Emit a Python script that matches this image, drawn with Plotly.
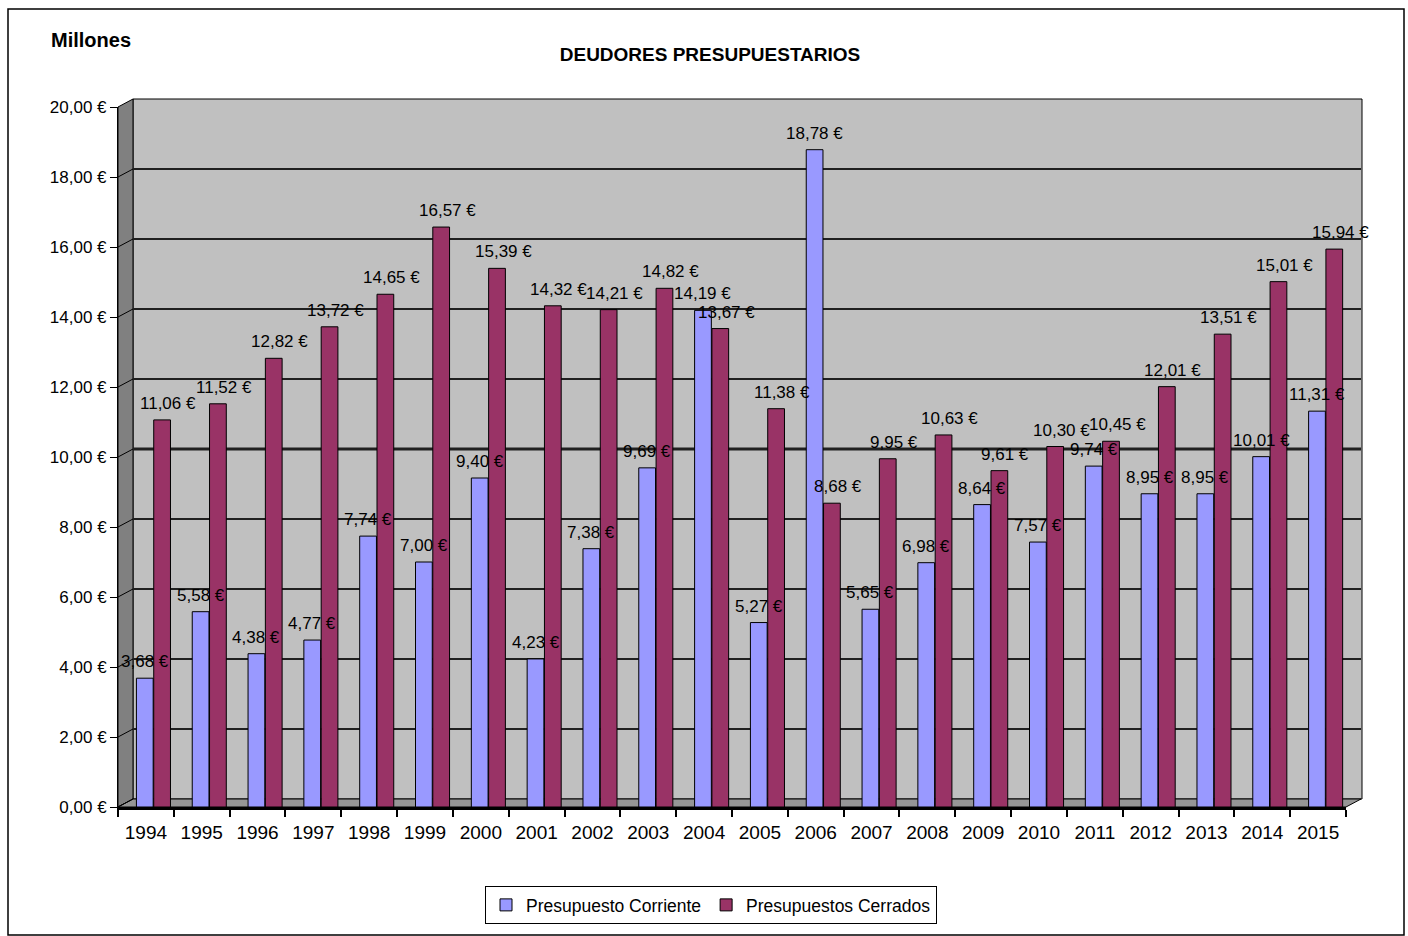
import plotly.graph_objects as go

years = [str(y) for y in range(1994, 2016)]
corriente = [3.68, 5.58, 4.38, 4.77, 7.74, 7.00, 9.40, 4.23, 7.38, 9.69, 14.19,
             5.27, 18.78, 5.65, 6.98, 8.64, 7.57, 9.74, 8.95, 8.95, 10.01, 11.31]
cerrados = [11.06, 11.52, 12.82, 13.72, 14.65, 16.57, 15.39, 14.32, 14.21, 14.82, 13.67,
            11.38, 8.68, 9.95, 10.63, 9.61, 10.30, 10.45, 12.01, 13.51, 15.01, 15.94]
y_ticks = [0, 2, 4, 6, 8, 10, 12, 14, 16, 18, 20]

W, H = 1408, 936
L, R, T, B = 118, 1346, 107, 807   # plot area in pixels
DEPTH_X, DEPTH_Y = 15, 8           # 3D wall offset
FONT = "Liberation Sans, Arial, sans-serif"

def px(x):
    return (x - L) / (R - L)

def py(y):
    return (B - y) / (B - T)

def eur(v):
    return f"{v:.2f}".replace(".", ",") + " €"

BLUE_OFF, RED_OFF, BW = -0.17, 0.14, 0.30

fig = go.Figure()
fig.add_trace(go.Bar(
    x=years, y=corriente, name="Presupuesto Corriente",
    marker=dict(color="#9999FF", line=dict(color="#000000", width=1)),
    offset=BLUE_OFF, width=BW,
))
fig.add_trace(go.Bar(
    x=years, y=cerrados, name="Presupuestos Cerrados",
    marker=dict(color="#993366", line=dict(color="#000000", width=1)),
    offset=RED_OFF, width=BW,
))

annotations = []
for i, v in enumerate(corriente):
    annotations.append(dict(x=i + BLUE_OFF + BW / 2, y=v, xref="x", yref="y", text=eur(v),
                            showarrow=False, xanchor="center", yanchor="bottom", yshift=5, xshift=0,
                            font=dict(size=17, color="#000000", family=FONT)))
for i, v in enumerate(cerrados):
    annotations.append(dict(x=i + RED_OFF + BW / 2, y=v, xref="x", yref="y", text=eur(v),
                            showarrow=False, xanchor="center", yanchor="bottom", yshift=5, xshift=6,
                            font=dict(size=17, color="#000000", family=FONT)))
annotations.append(dict(text="<b>Millones</b>", xref="paper", yref="paper",
                        x=px(49), y=py(40), xanchor="left", yanchor="middle",
                        showarrow=False, font=dict(size=20, family=FONT)))

shapes = []
# back wall
shapes.append(dict(type="rect", xref="paper", yref="paper",
                   x0=px(L + DEPTH_X), x1=px(R + DEPTH_X + 1), y0=py(B - DEPTH_Y), y1=py(T - DEPTH_Y),
                   fillcolor="#C0C0C0", line=dict(color="#000000", width=1), layer="below"))
# side wall
shapes.append(dict(type="path", xref="paper", yref="paper",
                   path=f"M {px(L)} {py(T)} L {px(L+DEPTH_X)} {py(T-DEPTH_Y)} L {px(L+DEPTH_X)} {py(B-DEPTH_Y)} L {px(L)} {py(B)} Z",
                   fillcolor="#808080", line=dict(color="#000000", width=1), layer="below"))
# floor
shapes.append(dict(type="path", xref="paper", yref="paper",
                   path=f"M {px(L)} {py(B)} L {px(L+DEPTH_X)} {py(B-DEPTH_Y)} L {px(R+DEPTH_X)} {py(B-DEPTH_Y)} L {px(R)} {py(B)} Z",
                   fillcolor="#969696", line=dict(color="#000000", width=1), layer="below"))
# gridlines on back wall + diagonal on side wall
unit = (B - T) / 20.0
for v in y_ticks[1:]:
    yv = v + DEPTH_Y / unit
    shapes.append(dict(type="line", xref="paper", yref="y",
                       x0=px(L + DEPTH_X), x1=px(R + DEPTH_X), y0=yv, y1=yv,
                       line=dict(color="#202020", width=3 if v == 10 else 2), layer="below"))
for v in y_ticks:
    shapes.append(dict(type="line", xref="paper", yref="y",
                       x0=px(L), x1=px(L + DEPTH_X), y0=v, y1=v + DEPTH_Y / unit,
                       line=dict(color="#000000", width=1), layer="below"))
# outer chart border
shapes.append(dict(type="rect", xref="paper", yref="paper",
                   x0=px(8), x1=px(1404), y0=py(935), y1=py(9),
                   line=dict(color="#000000", width=1.5), fillcolor="rgba(0,0,0,0)", layer="below"))

fig.update_layout(
    width=W, height=H,
    margin=dict(l=L, r=W - R, t=T, b=H - B),
    paper_bgcolor="#FFFFFF", plot_bgcolor="rgba(0,0,0,0)",
    separators=",.",
    font=dict(family=FONT, color="#000000"),
    title=dict(text="<b>DEUDORES PRESUPUESTARIOS</b>", x=710 / W, xanchor="center",
               y=1 - 54 / H, yanchor="middle", font=dict(size=19)),
    barmode="group",
    showlegend=True,
    legend=dict(orientation="h", x=px(711), xanchor="center", y=py(886), yanchor="top",
                bordercolor="#000000", borderwidth=1, font=dict(size=17.5),
                bgcolor="#FFFFFF", itemwidth=30),
    shapes=shapes,
    annotations=annotations,
)
fig.update_xaxes(type="category", range=[-0.5, len(years) - 0.5], showgrid=False,
                 showline=True, linecolor="#000000", linewidth=3,
                 ticks="outside", tickson="boundaries", ticklen=7, tickwidth=2, tickcolor="#000000",
                 tickfont=dict(size=19), ticklabelstandoff=6)
fig.update_yaxes(range=[0, 20], tickmode="array", tickvals=y_ticks, ticktext=[eur(v) for v in y_ticks],
                 showgrid=False, zeroline=False, showline=True, linecolor="#000000", linewidth=1,
                 ticks="outside", ticklen=7, tickcolor="#000000", tickfont=dict(size=17))

fig.write_html("out.html", config={"displayModeBar": False},
               post_script="document.body.style.margin='0';")
